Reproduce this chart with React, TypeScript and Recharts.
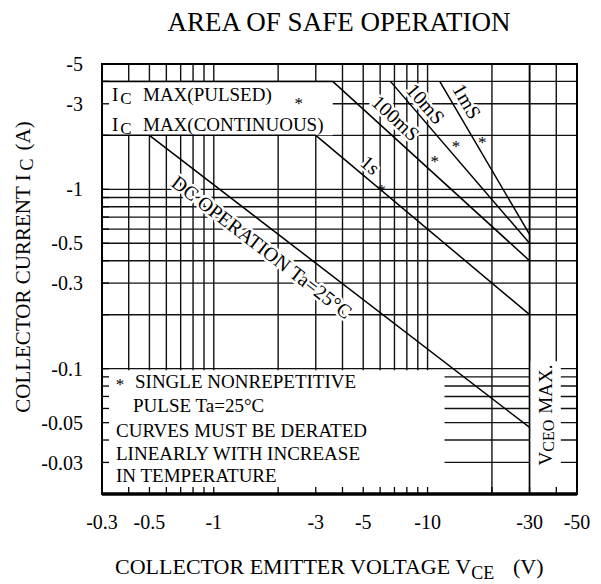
import React from 'react';
import {
  ComposedChart,
  Line,
  XAxis,
  YAxis,
  CartesianGrid,
  ReferenceArea,
  ReferenceDot,
  ReferenceLine,
  Customized,
} from 'recharts';

// ---------------- data ----------------
const vceGridValues = [0.3, 0.4, 0.5, 0.6, 0.7, 0.8, 0.9, 1, 2, 3, 4, 5, 6, 7, 8, 9, 10, 20, 30, 40, 50];
const vceTickLabels = [0.3, 0.5, 1, 3, 5, 10, 30, 50];
const icGridValues = [
  0.02, 0.03, 0.04, 0.05, 0.06, 0.07, 0.08, 0.09, 0.1, 0.2, 0.3, 0.4, 0.5, 0.6, 0.7, 0.8, 0.9, 1, 2, 3, 4, 5,
];
const icTickLabels = [0.03, 0.05, 0.1, 0.3, 0.5, 1, 3, 5];

const icMaxPulsed = [{ vce: 0.3, ic: 4 }, { vce: 3.6, ic: 4 }];
const icMaxContinuous = [{ vce: 0.3, ic: 2 }, { vce: 3, ic: 2 }];
const dcOperation = [{ vce: 0.5, ic: 2 }, { vce: 30, ic: 0.047 }];
const pulse1s = [{ vce: 3, ic: 2 }, { vce: 30, ic: 0.2 }];
const pulse100ms = [{ vce: 3.6, ic: 4 }, { vce: 30, ic: 0.4 }];
const pulse10ms = [{ vce: 6.7, ic: 4 }, { vce: 30, ic: 0.5 }];
const pulse1ms = [{ vce: 11.4, ic: 4 }, { vce: 30, ic: 0.56 }];
const vceoMax = 30;

const curveLabels = [
  { text: '1mS', vce: 15.3, ic: 3.1, angle: 60 },
  { text: '10mS', vce: 9.8, ic: 3.0, angle: 49 },
  { text: '100mS', vce: 7.1, ic: 2.5, angle: 43 },
  { text: '1s', vce: 5.4, ic: 1.37, angle: 40 },
  { text: 'DC OPERATION Ta=25°C', vce: 1.68, ic: 0.477, angle: 37.5 },
];
const pulseMarks = [
  { vce: 18, ic: 1.91 },
  { vce: 13.6, ic: 1.81 },
  { vce: 10.8, ic: 1.5 },
  { vce: 6.1, ic: 1.03 },
  { vce: 2.5, ic: 3.15 },
];
const noteLines = ['SINGLE NONREPETITIVE', 'PULSE Ta=25°C', 'CURVES MUST BE DERATED', 'LINEARLY WITH INCREASE', 'IN TEMPERATURE'];

const series = [icMaxPulsed, icMaxContinuous, dcOperation, pulse1s, pulse100ms, pulse10ms, pulse1ms];

// ---------------- styles ----------------
const FONT = '"Liberation Serif", "Times New Roman", serif';
const INK = '#000';

const fmtX = (v: number) => (vceTickLabels.includes(v) ? `-${v}` : '');
const fmtY = (v: number) => (icTickLabels.includes(v) ? `-${v}` : '');

const halo = { stroke: '#fff', strokeWidth: 5, paintOrder: 'stroke' as const, strokeLinejoin: 'round' as const };

const Star = ({ x, y }: { x: number; y: number }) => (
  <text x={x} y={y + 9} fontFamily={FONT} fontSize={17} textAnchor="middle" fill={INK}>
    *
  </text>
);

const Titles = () => (
  <g>
    <text x={331} y={23} textAnchor="middle" fontFamily={FONT} fontSize={27} fill={INK}>
      AREA OF SAFE OPERATION
    </text>
    <text x={107} y={566} fontFamily={FONT} fontSize={22} fill={INK}>
      COLLECTOR EMITTER VOLTAGE V
      <tspan dy={5} fontSize={18}>CE</tspan>
      <tspan dy={-5} x={505}>(V)</tspan>
    </text>
    <text transform="translate(22,259) rotate(-90)" textAnchor="middle" fontFamily={FONT} fontSize={21} fill={INK}>
      COLLECTOR CURRENT I
      <tspan dx={4} dy={3} fontSize={18}>C</tspan>
      <tspan dx={8} dy={-3}>(A)</tspan>
    </text>
  </g>
);

export default function App() {
  return (
    <div style={{ width: 585, height: 576, background: '#fff' }}>
      <ComposedChart width={585} height={576} margin={{ top: 56, right: 16, bottom: 60, left: 34 }}>
        <CartesianGrid stroke="#111" strokeWidth={1.4} />
        {/* white panels that hold the printed notes */}
        <ReferenceArea x1={0.3} x2={3.6} y1={2} y2={4} fill="#fff" fillOpacity={1} stroke="none" />
        <ReferenceArea x1={0.3} x2={12} y1={0.02} y2={0.098} fill="#fff" fillOpacity={1} stroke="none" />
        <ReferenceArea x1={vceoMax} x2={42} y1={0.02} y2={0.11} fill="#fff" fillOpacity={1} stroke="none" />
        <XAxis
          type="number"
          dataKey="vce"
          scale="log"
          domain={[0.3, 50]}
          allowDataOverflow
          ticks={vceGridValues}
          interval={0}
          tickFormatter={fmtX}
          axisLine={false}
          tickLine={{ stroke: INK, strokeWidth: 1.3 }}
          tickSize={-7}
          tickMargin={28}
          height={30}
          tick={{ fontFamily: FONT, fontSize: 20, fill: INK }}
        />
        <YAxis
          type="number"
          dataKey="ic"
          scale="log"
          domain={[0.02, 5]}
          allowDataOverflow
          ticks={icGridValues}
          interval={0}
          tickFormatter={fmtY}
          axisLine={false}
          tickLine={{ stroke: INK, strokeWidth: 1.3 }}
          tickSize={-7}
          tickMargin={26}
          width={60}
          tick={{ fontFamily: FONT, fontSize: 20, fill: INK }}
        />
        <ReferenceLine x={vceoMax} stroke={INK} strokeWidth={1.6} />
        {series.map((d, k) => (
          <Line
            key={k}
            data={d}
            dataKey="ic"
            type="linear"
            stroke={INK}
            strokeWidth={1.5}
            dot={false}
            activeDot={false}
            isAnimationActive={false}
          />
        ))}
        {curveLabels.map((l) => (
          <ReferenceDot
            key={l.text}
            x={l.vce}
            y={l.ic}
            r={1}
            shape={(p: any) => (
              <text
                x={p.cx}
                y={p.cy}
                transform={`rotate(${l.angle}, ${p.cx}, ${p.cy})`}
                textAnchor="middle"
                dominantBaseline="central"
                fontFamily={FONT}
                fontSize={20}
                fill={INK}
                {...halo}
              >
                {l.text}
              </text>
            )}
          />
        ))}
        {pulseMarks.map((m, k) => (
          <ReferenceDot key={`s${k}`} x={m.vce} y={m.ic} r={1} shape={(p: any) => <Star x={p.cx} y={p.cy} />} />
        ))}
        <ReferenceDot
          x={0.3}
          y={4}
          r={1}
          shape={(p: any) => (
            <text x={p.cx + 10} y={p.cy + 20} fontFamily={FONT} fontSize={19} fill={INK}>
              I<tspan dy={3} dx={2} fontSize={17}>C</tspan>
              <tspan dy={-3} x={p.cx + 41}>MAX(PULSED)</tspan>
            </text>
          )}
        />
        <ReferenceDot
          x={0.3}
          y={2}
          r={1}
          shape={(p: any) => (
            <text x={p.cx + 10} y={p.cy - 4} fontFamily={FONT} fontSize={19} fill={INK}>
              I<tspan dy={3} dx={2} fontSize={17}>C</tspan>
              <tspan dy={-3} x={p.cx + 41}>MAX(CONTINUOUS)</tspan>
            </text>
          )}
        />
        <ReferenceDot
          x={0.3}
          y={0.1}
          r={1}
          shape={(p: any) => (
            <g fontFamily={FONT} fontSize={19} fill={INK}>
              <Star x={p.cx + 18} y={p.cy + 12} />
              <text x={p.cx + 33} y={p.cy + 19}>{noteLines[0]}</text>
              <text x={p.cx + 31} y={p.cy + 43}>{noteLines[1]}</text>
              <text x={p.cx + 14} y={p.cy + 68}>{noteLines[2]}</text>
              <text x={p.cx + 14} y={p.cy + 91}>{noteLines[3]}</text>
              <text x={p.cx + 14} y={p.cy + 113}>{noteLines[4]}</text>
            </g>
          )}
        />
        <ReferenceDot
          x={vceoMax}
          y={0.02}
          r={1}
          shape={(p: any) => (
            <text
              transform={`translate(${p.cx + 22}, ${p.cy - 79}) rotate(-90)`}
              textAnchor="middle"
              fontFamily={FONT}
              fontSize={19}
              fill={INK}
            >
              V<tspan dy={2} fontSize={16}>CEO</tspan>
              <tspan dy={-2} dx={6}>MAX.</tspan>
            </text>
          )}
        />
        <ReferenceArea x1={0.3} x2={50} y1={0.02} y2={5} fill="none" stroke={INK} strokeWidth={2} />
        <ReferenceLine y={0.02} stroke={INK} strokeWidth={3.5} />
        <Customized component={Titles} />
      </ComposedChart>
    </div>
  );
}
